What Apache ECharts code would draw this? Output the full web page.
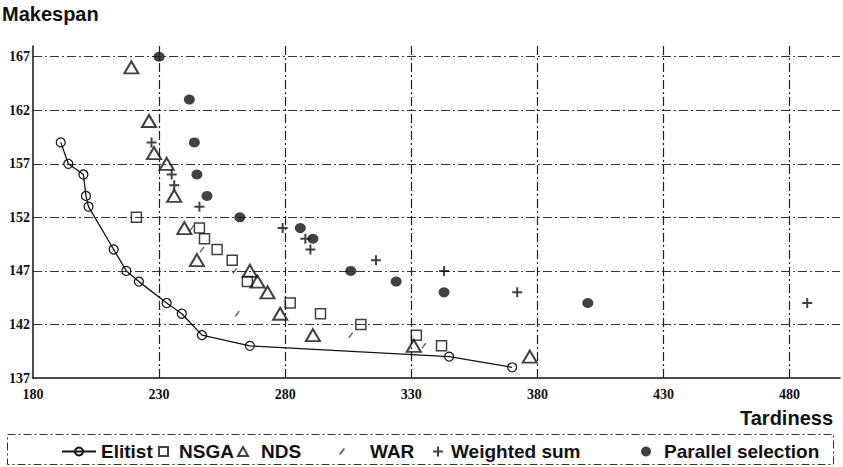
<!DOCTYPE html>
<html>
<head>
<meta charset="utf-8">
<script src="https://cdn.jsdelivr.net/npm/echarts@6/dist/echarts.min.js"></script>
<style>
  html, body { margin: 0; padding: 0; background: #fff; }
  #chart { width: 843px; height: 467px; }
</style>
</head>
<body>
<div id="chart"></div>
<script>
// Tardiness / makespan trade-off of each selection scheme
const xTicks = [180, 230, 280, 330, 380, 430, 480];
const yTicks = [137, 142, 147, 152, 157, 162, 167];

const elitist = [
  [191, 159], [194, 157], [200, 156], [201, 154], [202, 153], [212, 149],
  [217, 147], [222, 146], [233, 144], [239, 143], [247, 141], [266, 140],
  [345, 139], [370, 138]
];
const nsga = [
  [221, 152], [246, 151], [248, 150], [253, 149], [259, 148], [265, 146],
  [282, 144], [294, 143], [310, 142], [332, 141], [342, 140]
];
const nds = [
  [219, 166], [226, 161], [228, 158], [233, 157], [236, 154], [240, 151],
  [245, 148], [266, 147], [269, 146], [273, 145], [278, 143], [291, 141],
  [331, 140], [377, 139]
];
const war = [
  [243, 151], [247, 149], [260, 147], [261, 143], [306, 141], [335, 140]
];
const weightedSum = [
  [227, 159], [235, 156], [236, 155], [246, 153], [279, 151], [288, 150],
  [290, 149], [316, 148], [343, 147], [372, 145], [487, 144]
];
const parallelSel = [
  [230, 167], [242, 163], [244, 159], [245, 156], [249, 154], [262, 152],
  [286, 151], [291, 150], [306, 147], [324, 146], [343, 145], [400, 144]
];

const INK = '#111';
const gridDash = [9, 3, 2, 3];
const legendFont = { color: INK, fontFamily: 'Liberation Sans', fontWeight: 'bold', fontSize: 19 };

const plusPath = 'path://M4,0H6V4H10V6H6V10H4V6H0V4H4Z';
const slashPath = 'path://M0,9L7,0L9,1.4L2,10.4Z';

function legendAt(name, left, extra) {
  return Object.assign({
    data: [name],
    left: left,
    top: 437,
    itemGap: 0,
    selectedMode: false,
    textStyle: legendFont
  }, extra || {});
}

const chart = echarts.init(document.getElementById('chart'), null, { renderer: 'svg' });

chart.setOption({
  animation: false,
  backgroundColor: '#fff',
  grid: { left: 33, right: 2, top: 46, bottom: 89 },
  xAxis: {
    type: 'value',
    min: xTicks[0],
    max: 500,
    interval: 50,
    axisLine: { onZero: false, lineStyle: { color: INK, width: 1.5 } },
    axisTick: { show: false },
    axisLabel: {
      margin: 9,
      color: INK,
      fontFamily: 'Liberation Serif',
      fontWeight: 'bold',
      fontSize: 14,
      formatter: v => (xTicks.indexOf(v) >= 0 ? String(v) : '')
    },
    splitLine: {
      show: true,
      showMinLine: false,
      showMaxLine: false,
      lineStyle: { color: '#222', width: 1.2, type: gridDash }
    }
  },
  yAxis: {
    type: 'value',
    min: yTicks[0],
    max: 168,
    interval: 5,
    axisLine: { show: true, onZero: false, lineStyle: { color: INK, width: 1.5 } },
    axisTick: { show: false },
    axisLabel: {
      margin: 3,
      color: INK,
      fontFamily: 'Liberation Serif',
      fontWeight: 'bold',
      fontSize: 14,
      formatter: v => (yTicks.indexOf(v) >= 0 ? String(v) : '')
    },
    splitLine: {
      show: true,
      showMinLine: false,
      showMaxLine: false,
      lineStyle: { color: '#333', width: 1, type: gridDash }
    }
  },
  legend: [
    legendAt('Elitist', 56, { itemWidth: 34, itemHeight: 10 }),
    legendAt('NSGA', 153, { itemWidth: 9, itemHeight: 9, textStyle: Object.assign({}, legendFont, { padding: [0, 0, 0, 6] }) }),
    legendAt('NDS', 232, { itemWidth: 10, itemHeight: 9, textStyle: Object.assign({}, legendFont, { padding: [0, 0, 0, 8] }) }),
    legendAt('WAR', 334, { itemWidth: 6, itemHeight: 7, textStyle: Object.assign({}, legendFont, { padding: [0, 0, 0, 20] }) }),
    legendAt('Weighted sum', 428, { itemWidth: 10, itemHeight: 10, textStyle: Object.assign({}, legendFont, { padding: [0, 0, 0, 3] }) }),
    legendAt('Parallel selection', 636, { itemWidth: 10, itemHeight: 10, textStyle: Object.assign({}, legendFont, { padding: [0, 0, 0, 8] }) })
  ],
  graphic: [
    {
      type: 'text',
      left: 2,
      top: 4,
      style: { text: 'Makespan', fill: INK, font: 'bold 20px "Liberation Sans"' }
    },
    {
      type: 'text',
      right: 10,
      top: 408,
      style: { text: 'Tardiness', fill: INK, font: 'bold 20px "Liberation Sans"' }
    },
    {
      type: 'rect',
      left: 5,
      top: 432,
      shape: { width: 826, height: 30 },
      style: { fill: 'none', stroke: '#333', lineWidth: 1, lineDash: [8, 3, 2, 3] },
      silent: true
    }
  ],
  series: [
    {
      name: 'Elitist',
      type: 'line',
      data: elitist,
      symbol: 'circle',
      symbolSize: 9,
      lineStyle: { color: INK, width: 1.3 },
      itemStyle: { color: 'rgba(255,255,255,0)', borderColor: INK, borderWidth: 1.2 },
      z: 3
    },
    {
      name: 'NSGA',
      type: 'scatter',
      data: nsga,
      symbol: 'rect',
      symbolSize: 10,
      itemStyle: { color: 'rgba(255,255,255,0)', borderColor: INK, borderWidth: 1.5 },
      z: 4
    },
    {
      name: 'NDS',
      type: 'scatter',
      data: nds,
      symbol: 'triangle',
      symbolSize: [14, 12],
      itemStyle: { color: 'rgba(255,255,255,0)', borderColor: INK, borderWidth: 2 },
      z: 5
    },
    {
      name: 'WAR',
      type: 'scatter',
      data: war,
      symbol: slashPath,
      symbolSize: [5, 6],
      itemStyle: { color: '#333' },
      z: 4
    },
    {
      name: 'Weighted sum',
      type: 'scatter',
      data: weightedSum,
      symbol: plusPath,
      symbolSize: 10,
      itemStyle: { color: INK },
      z: 4
    },
    {
      name: 'Parallel selection',
      type: 'scatter',
      data: parallelSel,
      symbol: 'circle',
      symbolSize: [11, 10],
      itemStyle: { color: INK },
      z: 4
    }
  ]
});
</script>
</body>
</html>
